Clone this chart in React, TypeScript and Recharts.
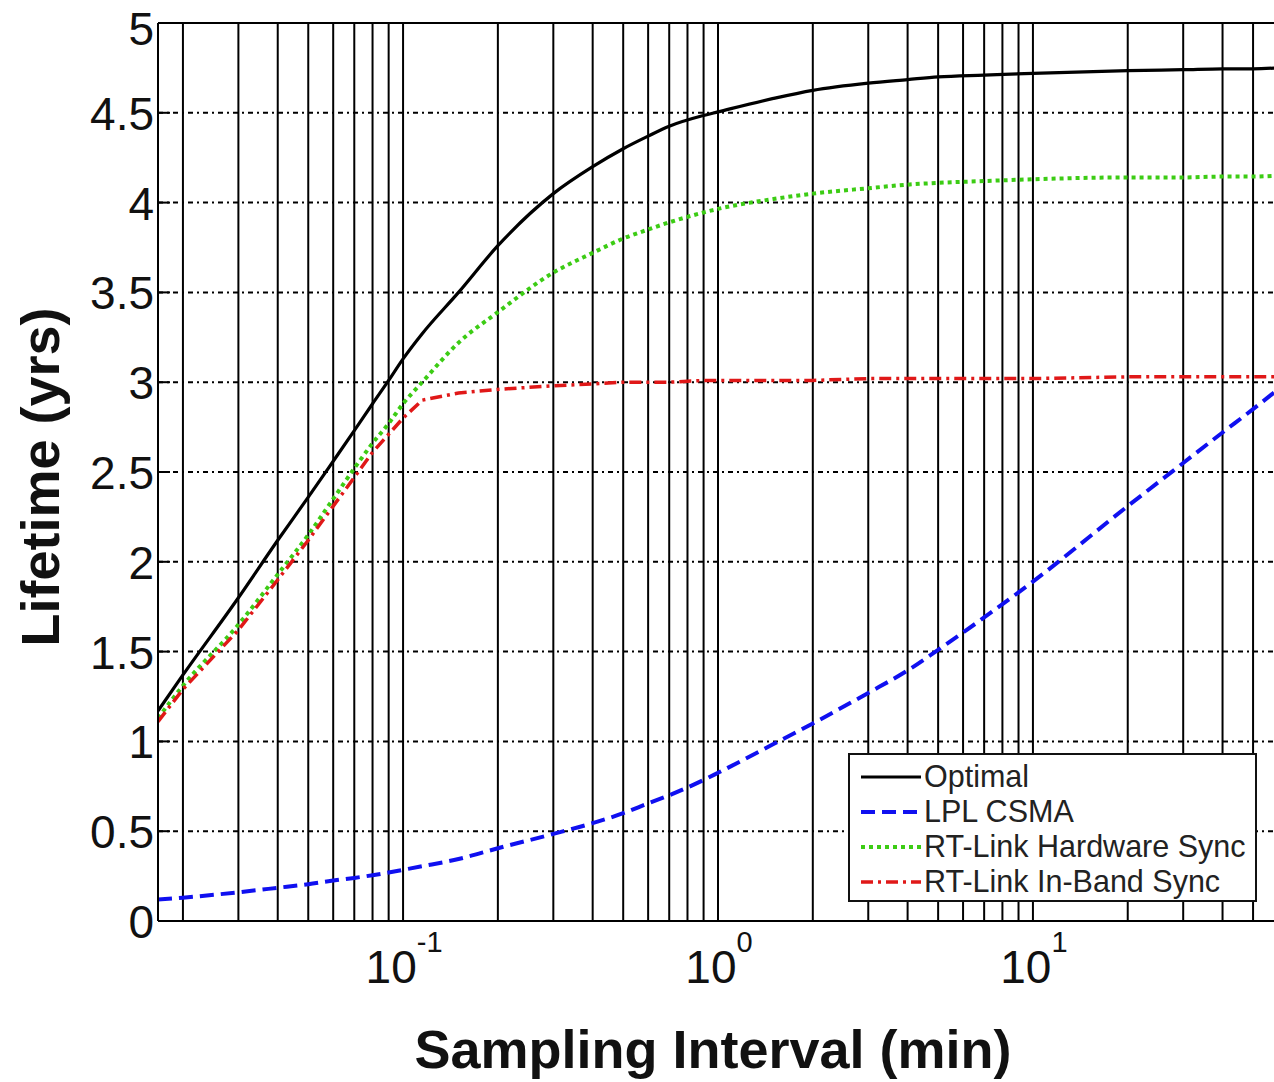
import React from 'react';
import {
  LineChart,
  Line,
  XAxis,
  YAxis,
  CartesianGrid,
  ReferenceLine,
  Legend,
  Label,
} from 'recharts';

// sampling interval in minutes (log axis from 1 s to 1 h)
const intervals = [
  1 / 60, 0.02, 0.03, 0.04, 0.05, 0.06, 0.07, 0.08, 0.09, 0.1, 0.115, 0.15, 0.2, 0.3,
  0.4, 0.5, 0.6, 0.7, 0.9, 1, 1.5, 2, 3, 4, 5, 7, 10, 20, 30, 40, 50, 60,
];

// lifetime in years, one value per interval
const optimal = [
  1.17, 1.37, 1.8, 2.12, 2.36, 2.56, 2.73, 2.88, 3.01, 3.13, 3.27, 3.5, 3.76, 4.05,
  4.2, 4.3, 4.37, 4.425, 4.485, 4.505, 4.58, 4.625, 4.665, 4.685, 4.7, 4.71, 4.72, 4.735, 4.74, 4.745, 4.745, 4.75,
];
const lplCsma = [
  0.12, 0.13, 0.16, 0.185, 0.205, 0.225, 0.24, 0.255, 0.27, 0.285, 0.305, 0.345, 0.405, 0.485,
  0.545, 0.6, 0.655, 0.7, 0.785, 0.825, 0.985, 1.1, 1.27, 1.395, 1.51, 1.69, 1.89, 2.31, 2.55, 2.72, 2.85, 2.96,
];
const hardwareSync = [
  1.13, 1.31, 1.65, 1.93, 2.15, 2.35, 2.52, 2.66, 2.77, 2.88, 3.0, 3.22, 3.39, 3.61,
  3.72, 3.8, 3.85, 3.89, 3.945, 3.965, 4.02, 4.05, 4.08, 4.1, 4.11, 4.12, 4.13, 4.14, 4.14, 4.145, 4.145, 4.15,
];
const inBandSync = [
  1.11, 1.29, 1.62, 1.9, 2.12, 2.31, 2.47, 2.61, 2.71, 2.8, 2.9, 2.94, 2.96, 2.98,
  2.99, 3.0, 3.0, 3.0, 3.01, 3.01, 3.01, 3.01, 3.02, 3.02, 3.02, 3.02, 3.02, 3.03, 3.03, 3.03, 3.03, 3.03,
];

const lifetimeTicks = [0, 0.5, 1, 1.5, 2, 2.5, 3, 3.5, 4, 4.5, 5];
const decadeTicks = [0.1, 1, 10];
const decadeExponents = ['-1', '0', '1'];
const gridMinutes = [
  0.02, 0.03, 0.04, 0.05, 0.06, 0.07, 0.08, 0.09, 0.1,
  0.2, 0.3, 0.4, 0.5, 0.6, 0.7, 0.8, 0.9, 1,
  2, 3, 4, 5, 6, 7, 8, 9, 10,
  20, 30, 40, 50,
];

const seriesNames = ['Optimal', 'LPL CSMA', 'RT-Link Hardware Sync', 'RT-Link In-Band Sync'];
const seriesColors = ['#000000', '#1010f0', '#3ccc14', '#e01818'];
const seriesDash = ['', '14 7', '4 4', '12 5 3 5'];
const seriesWidth = [3.2, 4, 4, 3.5];

const data = intervals.map((x, i) => ({
  x,
  optimal: optimal[i],
  lpl: lplCsma[i],
  hw: hardwareSync[i],
  inband: inBandSync[i],
}));

const FONT = '"Liberation Sans", Arial, sans-serif';

const XTick = (props: any) => {
  const { x, payload } = props;
  const idx = decadeTicks.indexOf(payload.value);
  const exp = decadeExponents[idx] ?? '';
  return (
    <text x={x + 1} y={983} textAnchor="middle" fontFamily={FONT} fontSize={46} fill="#111">
      <tspan>10</tspan>
      <tspan dy={-31} fontSize={29}>{exp}</tspan>
    </text>
  );
};

const YTick = (props: any) => {
  const { y, payload } = props;
  // the top label sits a little lower, as in the original figure
  const shift = payload.value === 5 ? 22 : 17;
  return (
    <g>
      <line x1={158} x2={170} y1={y} y2={y} stroke="#000" strokeWidth={2} />
      <text x={154} y={y + shift} textAnchor="end" fontFamily={FONT} fontSize={46} fill="#111">
        {payload.value}
      </text>
    </g>
  );
};

const LegendBox = () => (
  <div
    style={{
      width: 409,
      height: 149,
      boxSizing: 'border-box',
      border: '2px solid #111',
      background: '#fff',
      paddingTop: 4,
      fontFamily: FONT,
    }}
  >
    {seriesNames.map((name, i) => (
      <div key={name} style={{ display: 'flex', alignItems: 'center', height: 35 }}>
        <svg width={72} height={10} style={{ marginLeft: 11 }}>
          <line
            x1={0}
            x2={60}
            y1={5}
            y2={5}
            stroke={seriesColors[i]}
            strokeWidth={seriesWidth[i]}
            strokeDasharray={seriesDash[i] || undefined}
          />
        </svg>
        <span style={{ fontSize: 30.5, color: '#222', marginLeft: -9, lineHeight: '35px', whiteSpace: 'nowrap' }}>
          {name}
        </span>
      </div>
    ))}
  </div>
);

export default function App() {
  return (
    <div
      style={{
        position: 'fixed',
        left: 0,
        top: 0,
        width: 1274,
        height: 1082,
        overflow: 'hidden',
        background: '#fff',
      }}
    >
      <LineChart
        width={1290}
        height={1082}
        data={data}
        margin={{ top: 23, right: 12, bottom: 0, left: 0 }}
      >
        <CartesianGrid vertical={false} stroke="#000" strokeWidth={2} strokeDasharray="5 4 2 4" />
        {gridMinutes.map((g) => (
          <ReferenceLine key={g} x={g} stroke="#000" strokeWidth={2} />
        ))}
        <ReferenceLine y={5} stroke="#000" strokeWidth={2} />
        <ReferenceLine x={60} stroke="#000" strokeWidth={2} />
        <XAxis
          type="number"
          dataKey="x"
          scale="log"
          domain={[1 / 60, 60]}
          allowDataOverflow
          ticks={decadeTicks}
          tick={<XTick />}
          tickLine={false}
          axisLine={{ stroke: '#000', strokeWidth: 2 }}
          height={161}
        >
          <Label
            content={() => (
              <text x={713} y={1068} textAnchor="middle" fontFamily={FONT} fontSize={54} fontWeight="bold" fill="#111">
                Sampling Interval (min)
              </text>
            )}
          />
        </XAxis>
        <YAxis
          type="number"
          domain={[0, 5]}
          ticks={lifetimeTicks}
          tick={<YTick />}
          tickLine={false}
          axisLine={{ stroke: '#000', strokeWidth: 2 }}
          width={158}
        >
          <Label
            content={() => (
              <text
                x={59}
                y={477}
                transform="rotate(-90 59 477)"
                textAnchor="middle"
                fontFamily={FONT}
                fontSize={54}
                fontWeight="bold"
                fill="#111"
              >
                Lifetime (yrs)
              </text>
            )}
          />
        </YAxis>
        <Line
          dataKey="optimal"
          name={seriesNames[0]}
          type="monotone"
          stroke={seriesColors[0]}
          strokeWidth={seriesWidth[0]}
          dot={false}
          isAnimationActive={false}
        />
        <Line
          dataKey="lpl"
          name={seriesNames[1]}
          type="monotone"
          stroke={seriesColors[1]}
          strokeWidth={seriesWidth[1]}
          strokeDasharray={seriesDash[1]}
          dot={false}
          isAnimationActive={false}
        />
        <Line
          dataKey="hw"
          name={seriesNames[2]}
          type="monotone"
          stroke={seriesColors[2]}
          strokeWidth={seriesWidth[2]}
          strokeDasharray={seriesDash[2]}
          dot={false}
          isAnimationActive={false}
        />
        <Line
          dataKey="inband"
          name={seriesNames[3]}
          type="linear"
          stroke={seriesColors[3]}
          strokeWidth={seriesWidth[3]}
          strokeDasharray={seriesDash[3]}
          dot={false}
          isAnimationActive={false}
        />
        <Legend
          layout="vertical"
          align="center"
          verticalAlign="middle"
          content={<LegendBox />}
          wrapperStyle={{ left: 848, top: 753, width: 409, height: 149 }}
        />
      </LineChart>
    </div>
  );
}
